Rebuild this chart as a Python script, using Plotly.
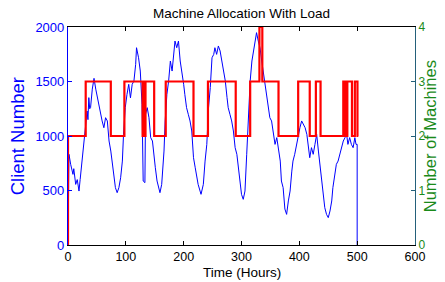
import plotly.graph_objects as go

# Client number (left axis)
client_hours = [0, 1.7, 4.6, 8.6, 10, 13.3, 16, 19, 21, 24, 27, 30, 33, 34.5, 36, 37.5, 39, 42, 45, 48, 51, 54, 56,
                59, 62, 65, 68, 71, 74, 76, 79, 82, 85, 88, 91, 94, 96, 99, 102, 105, 108, 111, 114, 117, 118.5,
                122, 125, 128, 130, 133, 134, 137, 140, 143, 146, 148, 151, 154, 157, 159, 162, 164, 166, 168,
                171, 174, 177, 180, 183, 185, 188, 191, 194, 197, 200, 202, 205, 208, 211, 214, 217, 220, 223,
                225, 230, 234, 237, 240, 243, 246, 249, 252, 254, 257, 260, 263, 266, 269, 272, 275, 277, 280,
                283, 286, 289, 292, 295, 298, 300, 303, 306, 309, 312, 315, 318, 321, 323, 326, 329, 332, 335,
                338, 341, 344, 346, 349, 352, 355, 358, 361, 364, 367, 369, 372, 375, 378, 381, 384, 387, 389,
                392, 395, 398, 401, 404, 407, 410, 413, 415, 418, 421, 424, 427, 430, 433, 435, 438, 441, 444,
                447, 450, 453, 456, 458, 461, 464, 467, 470, 473, 476, 479, 481, 484, 487, 490, 493, 496, 498,
                500, 500]
client_values = [0, 832, 740, 648, 700, 556, 600, 495, 600, 770, 920, 1076, 1229, 1150, 1352, 1250, 1260, 1430,
                 1529, 1430, 1350, 1260, 1199, 1138, 1076, 1168, 1138, 954, 862, 770, 648, 526, 480, 526, 617,
                 770, 1015, 1260, 1382, 1474, 1350, 1474, 1505, 1657, 1810, 1718, 1596, 1291, 587, 572, 1200,
                 1260, 1168, 985, 954, 832, 709, 587, 526, 480, 556, 678, 862, 1138, 1382, 1505, 1688, 1596,
                 1749, 1871, 1810, 1871, 1688, 1596, 1474, 1382, 1260, 1199, 1138, 1046, 801, 709, 587, 556,
                 465, 556, 770, 923, 1260, 1444, 1718, 1749, 1810, 1749, 1826, 1780, 1688, 1596, 1505, 1352,
                 1260, 1199, 1138, 1046, 893, 832, 709, 556, 465, 419, 495, 832, 1199, 1505, 1688, 1780, 1871,
                 1948, 1871, 1810, 1688, 1566, 1444, 1352, 1260, 1168, 1138, 1046, 923, 985, 862, 770, 587, 526,
                 330, 281, 404, 495, 678, 770, 832, 923, 1015, 1076, 1138, 1107, 1076, 1015, 923, 801, 893, 832,
                 923, 1015, 862, 770, 617, 465, 343, 281, 251, 312, 404, 526, 648, 740, 770, 832, 893, 954, 985,
                 1046, 923, 985, 923, 893, 985, 923, 923, 0]

# Number of machines (right axis), step changes
machine_hours = [0, 0, 30.6, 74, 97.5, 129, 130.5, 132, 134, 149, 169, 217, 242, 290, 315, 331, 336, 364,
                 398, 418, 428.6, 436.7, 476, 478, 480, 482, 483, 491, 496, 500.5, 502]
machine_values = [0, 2, 3, 2, 3, 2, 3, 2, 3, 2, 3, 2, 3, 2, 3, 4, 3, 2,
                  3, 2, 3, 2, 3, 2, 3, 2, 3, 2, 3, 2, 2]

x_ticks = [0, 100, 200, 300, 400, 500, 600]
left_ticks = [0, 500, 1000, 1500, 2000]
right_ticks = [0, 1, 2, 3, 4]

FONT = "Liberation Sans, Arial, Helvetica, sans-serif"
BLUE = "#0000ff"
RED = "#ff0000"
GREEN = "#1a8a1a"
TEAL = "#24607a"

fig = go.Figure()
fig.add_trace(go.Scatter(x=client_hours, y=client_values, mode="lines",
                         line=dict(color=BLUE, width=1), yaxis="y", showlegend=False))
fig.add_trace(go.Scatter(x=machine_hours, y=machine_values, mode="lines",
                         line=dict(color=RED, width=2.2, shape="hv"), yaxis="y2", showlegend=False))

fig.update_layout(
    width=445, height=274, autosize=False,
    margin=dict(l=60, r=38, t=19, b=37, pad=0),
    paper_bgcolor="white", plot_bgcolor="white",
    font=dict(family=FONT, size=12, color="black"),
    xaxis=dict(range=[0, 600], tickvals=x_ticks, ticks="inside", ticklen=4, tickcolor="black",
               showline=True, linecolor="black", linewidth=1.2, mirror="ticks", showgrid=False,
               zeroline=False, automargin=False, tickfont=dict(size=12.5, color="black")),
    yaxis=dict(range=[0, 2000], tickvals=left_ticks, ticks="inside", ticklen=4, tickcolor=BLUE,
               showline=True, linecolor=BLUE, linewidth=1.2, showgrid=False, zeroline=False,
               automargin=False, tickfont=dict(size=13, color=BLUE)),
    yaxis2=dict(range=[0, 4], tickvals=right_ticks, ticks="inside", ticklen=4, tickcolor=TEAL,
                overlaying="y", side="right", showline=True, linecolor=TEAL, linewidth=1.2,
                showgrid=False, zeroline=False, automargin=False, tickfont=dict(size=12, color=GREEN)),
    annotations=[
        dict(text="Machine Allocation With Load", xref="paper", yref="paper", x=0.5, y=1.064,
             showarrow=False, font=dict(size=13.5, color="black"), xanchor="center", yanchor="middle"),
        dict(text="Time (Hours)", xref="paper", yref="paper", x=0.5, y=-0.128,
             showarrow=False, font=dict(size=13.5, color="black"), xanchor="center", yanchor="middle"),
        dict(text="Client Number", xref="paper", yref="paper", x=-0.146, y=0.5, textangle=-90,
             showarrow=False, font=dict(size=18.5, color=BLUE), xanchor="center", yanchor="middle"),
        dict(text="Number of Machines", xref="paper", yref="paper", x=1.044, y=0.5, textangle=-90,
             showarrow=False, font=dict(size=16.5, color=GREEN), xanchor="center", yanchor="middle"),
    ],
)

fig.write_html("out.html")
